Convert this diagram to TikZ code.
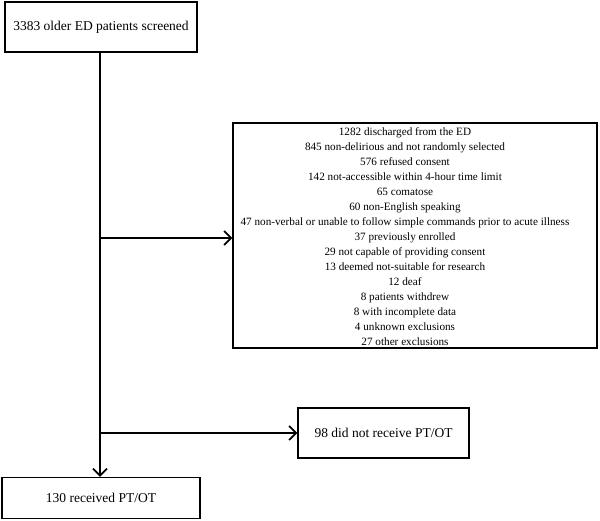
\documentclass[tikz,border=0pt]{standalone}
\usepackage{fontspec}
\setmainfont{Liberation Serif}
\usetikzlibrary{arrows.meta}

\begin{document}
\begin{tikzpicture}[
      x=1pt, y=1pt,
      every node/.style={inner sep=0pt,font=\fontsize{13.5}{15}\selectfont},
      box/.style={draw,line width=1.2pt,align=center},
      list/.style={align=center,font=\fontsize{11.2}{15}\selectfont},
      link/.style={line width=2pt,-{Straight Barb[length=7pt,width=14pt,line width=1.8pt]}}
    ]
      \useasboundingbox (0,0) rectangle (600,-520);
      \node[box,minimum width=192pt,minimum height=50pt] (screened) at (101,-27)
        {3383 older ED patients screened};
      % exclusion box, its text sits a little left of centre
      \node[box,minimum width=364pt,minimum height=225pt] (excl) at (415,-235.5) {};
      \node[list] (excltext) at (405,-237)
        {1282 discharged from the ED\\
         845 non-delirious and not randomly selected\\
         576 refused consent\\
         142 not-accessible within 4-hour time limit\\
         65 comatose\\
         60 non-English speaking\\
         47 non-verbal or unable to follow simple commands prior to acute illness\\
         37 previously enrolled\\
         29 not capable of providing consent\\
         13 deemed not-suitable for research\\
         12 deaf\\
         8 patients withdrew\\
         8 with incomplete data\\
         4 unknown exclusions\\
         27 other exclusions};
      \node[box,minimum width=171pt,minimum height=50pt] (norec) at (383.5,-433)
        {98 did not receive PT/OT};
      \node[box,minimum width=198pt,minimum height=41pt] (rec) at (101,-498)
        {130 received PT/OT};
      % trunk and side branches
      \coordinate (b1) at (100,-238);
      \coordinate (b2) at (100,-433);
      \draw[link] (screened.south -| b1) -- (rec.north -| b1);
      \draw[link] (b1) -- (b1 -| excl.west);
      \draw[link] (b2) -- (norec.west);
    \end{tikzpicture}
\end{document}
